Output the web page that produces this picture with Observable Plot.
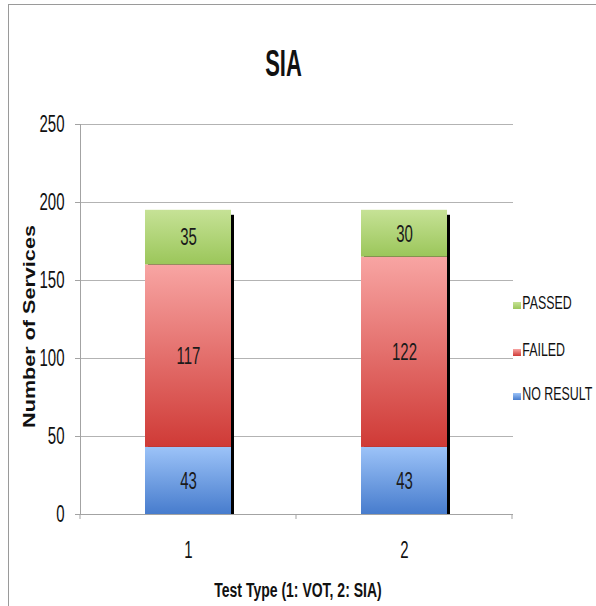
<!DOCTYPE html>
<html><head><meta charset="utf-8">
<script src="https://cdn.jsdelivr.net/npm/d3@7"></script>
<script src="https://cdn.jsdelivr.net/npm/@observablehq/plot@0.6"></script>
<style>
body{margin:0;background:#fff;}
#wrap{position:relative;width:596px;height:606px;overflow:hidden;background:#fff;font-family:"Liberation Sans",Arial,sans-serif;color:#111;}
#border{position:absolute;left:8px;top:4px;width:600px;height:610px;border-top:1.5px solid #9a9a9a;border-left:1.5px solid #9a9a9a;}
#chart{position:absolute;left:0;top:0;}
#title{position:absolute;left:283.5px;top:63.5px;transform:translate(-50%,-50%) scaleY(1.71);font-size:22px;font-weight:bold;line-height:1;white-space:nowrap;}
.sw{position:absolute;width:8px;height:7px;}
.tx{position:absolute;font-size:12.4px;line-height:1;white-space:nowrap;transform:translateY(-50%) scaleY(1.45);transform-origin:left center;}
svg [aria-label="y-axis label"], svg [aria-label="y-axis label"] text{font-family:"Liberation Sans",Arial,sans-serif;font-weight:bold;font-size:16px;}
svg [aria-label="x-axis label"], svg [aria-label="x-axis label"] text{font-weight:bold;font-size:14px;}
</style></head>
<body>
<div id="wrap">
  <div id="border"></div>
  <div id="chart"></div>
  <div id="title">SIA</div>
  <div id="legend"></div>
</div>
<script>
const categories = ["1", "2"];
const seriesNames = ["NO RESULT", "FAILED", "PASSED"];
const noResult = [43, 43];
const failed = [117, 122];
const passed = [35, 30];
const yTicks = [0, 50, 100, 150, 200, 250];
const legendOrder = ["PASSED", "FAILED", "NO RESULT"];

const seriesValues = {"NO RESULT": noResult, "FAILED": failed, "PASSED": passed};
const gradients = {
  "NO RESULT": {id: "gBlue", top: "#9cc3f8", bottom: "#477ccd"},
  "FAILED": {id: "gRed", top: "#f8a5a3", bottom: "#cf3a36"},
  "PASSED": {id: "gGreen", top: "#c6e296", bottom: "#9bc65a"}
};

const rows = [];
categories.forEach((c, i) => seriesNames.forEach(s => rows.push({category: c, series: s, value: seriesValues[s][i]})));
const totals = categories.map((c, i) => ({category: c, total: d3.sum(seriesNames, s => seriesValues[s][i])}));

// small tick marks at the band boundaries of the category axis (Excel style)
function bandTicks(index, scales) {
  const x = scales.x, y = scales.y;
  const bw = typeof x.bandwidth === "function" ? x.bandwidth() : x.bandwidth;
  const step = x(categories[1]) - x(categories[0]);
  const gap = (step - bw) / 2;
  const xs = categories.map(c => x(c) - gap);
  xs.push(x(categories[categories.length - 1]) + bw + gap);
  const g = d3.create("svg:g").attr("stroke", "#a3a3a3");
  const y0 = y(0);
  xs.forEach(v => g.append("line").attr("x1", v).attr("x2", v).attr("y1", y0).attr("y2", y0 + 5));
  return g.node();
}

const chart = Plot.plot({
  width: 596,
  height: 606,
  marginTop: 124,
  marginBottom: 92,
  marginLeft: 80,
  marginRight: 83,
  style: {fontFamily: '"Liberation Sans",Arial,sans-serif', fontSize: "15px", color: "#111", background: "transparent"},
  x: {type: "band", domain: categories, paddingInner: 0.6, paddingOuter: 0.3},
  y: {domain: [0, 250]},
  color: {domain: seriesNames, range: seriesNames.map(s => `url(#${gradients[s].id})`)},
  marks: [
    Plot.gridY(yTicks, {stroke: "#b3b3b3", strokeOpacity: 1}),
    Plot.barY(totals, {x: "category", y: "total", fill: "#000", dx: 3, insetTop: 5}),
    Plot.barY(rows, Plot.stackY({x: "category", y: "value", fill: "series"})),
    Plot.text(rows, Plot.stackY({x: "category", y: "value", text: d => String(d.value), fill: "#1a1a1a", fontSize: 15})),
    Plot.frame({anchor: "left", stroke: "#a3a3a3"}),
    Plot.ruleY([0], {stroke: "#a3a3a3"}),
    bandTicks,
    Plot.axisY(yTicks, {tickSize: 5, tickPadding: 11, stroke: "#a3a3a3", fill: "#111", label: "Number of Services", labelAnchor: "center", labelOffset: 50, labelArrow: "none"}),
    Plot.axisX({tickSize: 0, tickPadding: 30, fill: "#111", label: "Test Type (1: VOT, 2: SIA)", labelAnchor: "center", labelOffset: 74, labelArrow: "none"})
  ]
});

// gradient definitions for the Excel-style fills
const svg = d3.select(chart);
const defs = svg.insert("defs", ":first-child");
seriesNames.forEach(s => {
  const g = gradients[s];
  const lg = defs.append("linearGradient").attr("id", g.id).attr("x1", 0).attr("y1", 0).attr("x2", 0).attr("y2", 1);
  lg.append("stop").attr("offset", "0%").attr("stop-color", g.top);
  lg.append("stop").attr("offset", "100%").attr("stop-color", g.bottom);
});
document.getElementById("chart").appendChild(chart);

// the reference is a vertically stretched render: stretch every text about its own centre
function stretch(t, sx, sy) {
  const bb = t.getBBox();
  const cx = bb.x + bb.width / 2, cy = bb.y + bb.height / 2;
  const tr = t.getAttribute("transform") || "";
  t.setAttribute("transform", `${tr} translate(${cx},${cy}) scale(${sx},${sy}) translate(${-cx},${-cy})`);
}
function moveCentre(t, tx, ty) {
  const r = t.getBoundingClientRect(), s = chart.getBoundingClientRect();
  const dx = tx - (r.x + r.width / 2 - s.x), dy = ty - (r.y + r.height / 2 - s.y);
  t.setAttribute("transform", `translate(${dx},${dy}) ` + (t.getAttribute("transform") || ""));
}
const yLabel = chart.querySelector('[aria-label="y-axis label"] text') || chart.querySelector('text[aria-label="y-axis label"]');
const xLabel = chart.querySelector('[aria-label="x-axis label"] text') || chart.querySelector('text[aria-label="x-axis label"]');
chart.querySelectorAll("text").forEach(t => {
  if (t === yLabel) stretch(t, 1.35, 1);
  else if (t === xLabel) stretch(t, 1, 1.5);
  else stretch(t, 1, 1.55);
});
if (yLabel) moveCentre(yLabel, 30, 326.5);
if (xLabel) moveCentre(xLabel, 298, 589.5);

// legend
const legendY = {"PASSED": 302.5, "FAILED": 349.5, "NO RESULT": 394};
const leg = document.getElementById("legend");
legendOrder.forEach(s => {
  const sw = document.createElement("div");
  sw.className = "sw";
  sw.style.left = "512.7px";
  sw.style.top = (legendY[s] - 1) + "px";
  sw.style.background = `linear-gradient(${gradients[s].top}, ${gradients[s].bottom})`;
  const tx = document.createElement("div");
  tx.className = "tx";
  tx.style.left = "522.3px";
  tx.style.top = legendY[s] + "px";
  tx.textContent = s;
  leg.appendChild(sw);
  leg.appendChild(tx);
});
</script>
</body></html>
